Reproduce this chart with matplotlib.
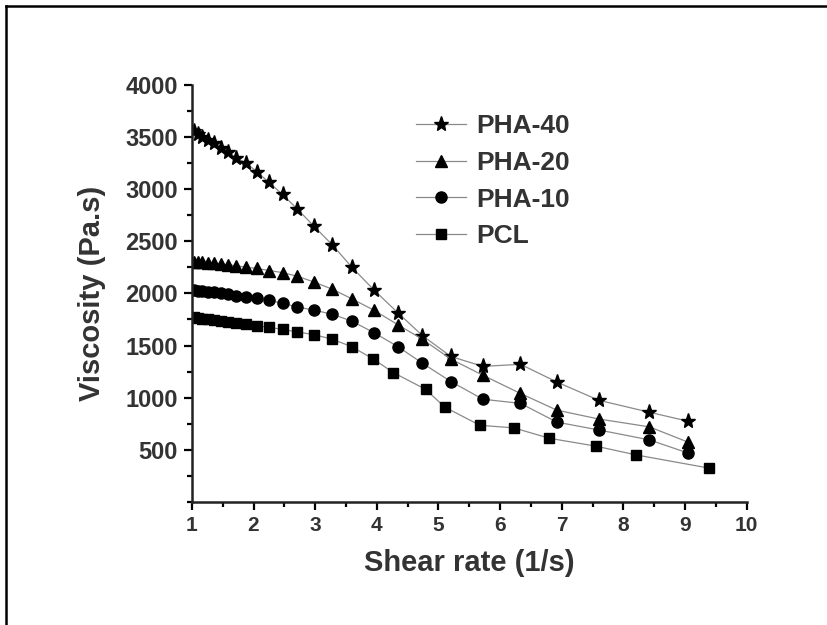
import matplotlib.pyplot as plt
from matplotlib.lines import Line2D
from matplotlib.ticker import MultipleLocator

# shear rate (1/s)
shear_pha = [1.03, 1.10, 1.17, 1.26, 1.36, 1.47, 1.58, 1.72, 1.88, 2.05, 2.25, 2.47, 2.71,
             2.98, 3.28, 3.59, 3.95, 4.34, 4.74, 5.20, 5.72, 6.33, 6.92, 7.60, 8.42, 9.04]
shear_pcl = [1.03, 1.10, 1.17, 1.26, 1.36, 1.47, 1.58, 1.72, 1.88, 2.05, 2.25, 2.47, 2.71,
             2.98, 3.28, 3.59, 3.93, 4.27, 4.79, 5.10, 5.67, 6.22, 6.80, 7.55, 8.21, 9.38]

# viscosity (Pa.s)
pha40 = [3560, 3530, 3505, 3475, 3440, 3400, 3355, 3300, 3250, 3170, 3065, 2950, 2810,
         2645, 2465, 2255, 2035, 1815, 1595, 1395, 1300, 1320, 1150, 975, 860, 775]
pha20 = [2305, 2300, 2298, 2295, 2290, 2283, 2275, 2265, 2252, 2240, 2220, 2200, 2165,
         2110, 2040, 1950, 1840, 1700, 1560, 1370, 1215, 1040, 880, 795, 720, 575]
pha10 = [2030, 2025, 2020, 2015, 2010, 2000, 1990, 1980, 1968, 1955, 1935, 1905, 1870,
         1840, 1800, 1735, 1625, 1490, 1330, 1155, 985, 945, 765, 690, 595, 470]
pcl = [1770, 1765, 1758, 1750, 1742, 1735, 1725, 1715, 1705, 1690, 1675, 1655, 1630,
       1605, 1560, 1490, 1375, 1240, 1080, 910, 735, 710, 610, 535, 450, 325]

labels = ["PHA-40", "PHA-20", "PHA-10", "PCL"]
markers = ["*", "^", "o", "s"]
msizes = [11, 9, 8, 7.5]

plt.rcParams["font.family"] = ["Liberation Sans", "DejaVu Sans"]
plt.rcParams["font.weight"] = "bold"

fig = plt.figure(figsize=(8.27, 6.25), dpi=100)
ax = fig.add_axes([0.232, 0.197, 0.671, 0.667])

series = [(shear_pha, pha40), (shear_pha, pha20), (shear_pha, pha10), (shear_pcl, pcl)]
for (xs, ys), lab, mk, ms in zip(series, labels, markers, msizes):
    ax.plot(xs, ys, color="#8a8a8a", lw=0.9, marker=mk, ms=ms,
            mfc="black", mec="black", label=lab)

ax.set_xlim(1, 10)
ax.set_ylim(0, 4000)
ax.set_xticks(range(1, 11))
ax.set_yticks(range(500, 4001, 500))
ax.xaxis.set_minor_locator(MultipleLocator(0.5))
ax.yaxis.set_minor_locator(MultipleLocator(250))
ax.tick_params(which="major", length=6, width=1.6, labelsize=15, pad=4)
ax.tick_params(which="minor", length=3.5, width=1.6)
ax.tick_params(axis="y", labelsize=17)
for s in ["top", "right"]:
    ax.spines[s].set_visible(False)
for s in ["left", "bottom"]:
    ax.spines[s].set_linewidth(1.8)
    ax.spines[s].set_color("#222222")

ax.set_xlabel("Shear rate (1/s)", fontsize=21, fontweight="bold", color="#333333", labelpad=10)
ax.set_ylabel("Viscosity (Pa.s)", fontsize=21, fontweight="bold", color="#333333", labelpad=14)
for t in ax.get_xticklabels() + ax.get_yticklabels():
    t.set_color("#333333")

leg = ax.legend(loc="upper left", bbox_to_anchor=(0.503, 0.817), bbox_transform=fig.transFigure,
                frameon=False, fontsize=19, handlelength=1.9, handletextpad=0.4,
                labelspacing=0.48, borderpad=0, borderaxespad=0)
for t in leg.get_texts():
    t.set_color("#333333")

# outer frame of the picture (top and left edges)
fig.add_artist(Line2D([0.007, 1.0], [0.99, 0.99], transform=fig.transFigure, color="black", lw=1.8))
fig.add_artist(Line2D([0.007, 0.007], [0.0, 0.99], transform=fig.transFigure, color="black", lw=1.8))

fig.savefig("out.png", dpi=100)
